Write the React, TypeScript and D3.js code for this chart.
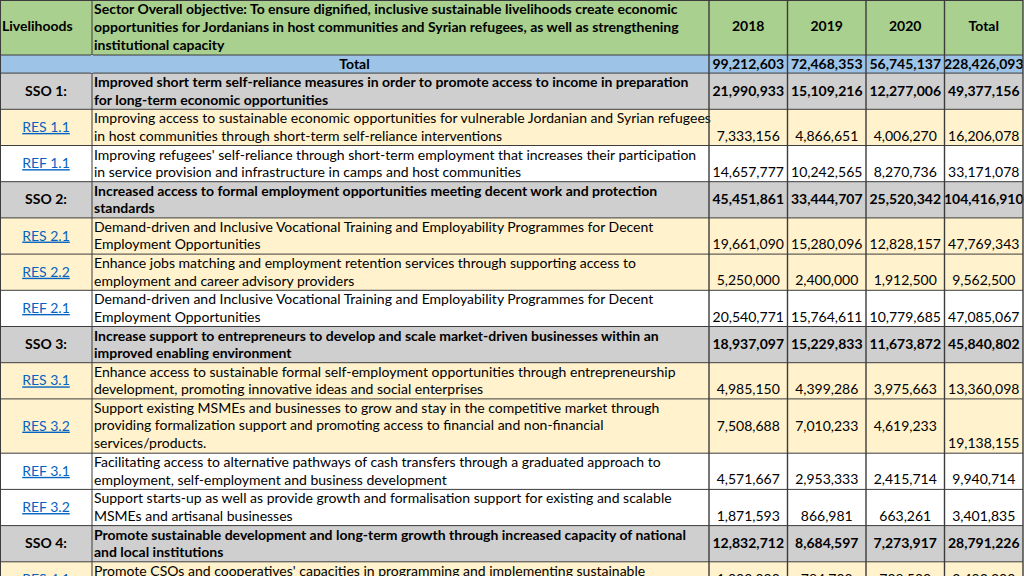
import React from "react";
import * as d3 from "d3";

// header
const headerLabel = "Livelihoods";
const headerObjective = [
  "Sector Overall objective: To ensure dignified, inclusive sustainable livelihoods create economic",
  "opportunities for Jordanians in host communities and Syrian refugees, as well as strengthening",
  "institutional capacity",
];
const valueColumns = ["2018", "2019", "2020", "Total"];

// grand total row
const grandTotals = [99212603, 72468353, 56745137, 228426093];

// body rows
const rowCodes = [
  "SSO 1:", "RES 1.1", "REF 1.1", "SSO 2:", "RES 2.1", "RES 2.2", "REF 2.1",
  "SSO 3:", "RES 3.1", "RES 3.2", "REF 3.1", "REF 3.2", "SSO 4:", "RES 4.1",
];
const rowTexts = [
  ["Improved short term self-reliance measures in order to promote access to income in preparation", "for long-term economic opportunities"],
  ["Improving access to sustainable economic opportunities for vulnerable Jordanian and Syrian refugees", "in host communities through short-term self-reliance interventions"],
  ["Improving refugees' self-reliance through short-term employment that increases their participation", "in service provision and infrastructure in camps and host communities"],
  ["Increased access to formal employment opportunities meeting decent work and protection", "standards"],
  ["Demand-driven and Inclusive Vocational Training  and Employability Programmes for Decent", "Employment Opportunities"],
  ["Enhance jobs matching and employment retention services through supporting access to", "employment and career advisory  providers"],
  ["Demand-driven and Inclusive Vocational Training and Employability Programmes for Decent", "Employment Opportunities"],
  ["Increase support to entrepreneurs to develop and scale market-driven businesses within an", "improved enabling environment"],
  ["Enhance access to sustainable formal self-employment opportunities through entrepreneurship", "development, promoting innovative ideas and social enterprises"],
  ["Support existing MSMEs and businesses to grow and stay in the competitive market through", "providing formalization support  and promoting access to financial and non-financial", "services/products."],
  ["Facilitating access to alternative pathways of  cash transfers through a graduated approach to", "employment, self-employment and business development"],
  ["Support starts-up as well as provide growth and formalisation support for existing and scalable", "MSMEs and artisanal businesses"],
  ["Promote sustainable development and long-term growth through increased capacity of national", "and local institutions"],
  ["Promote CSOs and cooperatives' capacities in programming and implementing sustainable", ""],
];
const values2018 = [21990933, 7333156, 14657777, 45451861, 19661090, 5250000, 20540771, 18937097, 4985150, 7508688, 4571667, 1871593, 12832712, 1000000];
const values2019 = [15109216, 4866651, 10242565, 33444707, 15280096, 2400000, 15764611, 15229833, 4399286, 7010233, 2953333, 866981, 8684597, 784700];
const values2020 = [12277006, 4006270, 8270736, 25520342, 12828157, 1912500, 10779685, 11673872, 3975663, 4619233, 2415714, 663261, 7273917, 708500];
const valuesTotal = [49377156, 16206078, 33171078, 104416910, 47769343, 9562500, 47085067, 45840802, 13360098, 19138155, 9940714, 3401835, 28791226, 2493200];

const W = 1024;
const H = 576;
const FONT = "Lato, 'Open Sans', sans-serif";
const LINE = 18.1;
const fmt = d3.format(",");

// cells whose numbers sit in the middle instead of the bottom
const middleCells: Record<string, number[]> = { "RES 3.2": [0, 1, 2], "RES 4.1": [0, 1, 2, 3] };

export default function App() {
  const x = d3.scaleBand().domain(valueColumns).range([709, 1023]);
  const codeX0 = 0, codeX1 = 92;

  // rows laid out in line units
  const rows = [
    { kind: "header", lines: 3 },
    { kind: "total", lines: 1 },
    ...rowCodes.map((c, i) => ({
      kind: c.startsWith("SSO") ? "sso" : c.startsWith("RES") ? "res" : "ref",
      lines: Math.max(2, rowTexts[i].length),
      i,
    })),
  ];
  let acc = 0;
  const starts = rows.map((r) => { const s = acc; acc += r.lines; return s; });
  const y = d3.scaleLinear().domain([0, 3]).range([0, 55]);
  const yb = d3.scaleLinear().domain([3, acc]).range([55, 55 + (acc - 3) * LINE]);
  const yAt = (v: number) => (v <= 3 ? y(v) : yb(v));

  const fills: Record<string, string> = {
    header: "#a9d08e", total: "#9dc3e6", sso: "#cfcfcf", res: "#fff2cc", ref: "#ffffff",
  };
  const stroke = "#3c3c3c";
  const seriesAt = (i: number) => [values2018[i], values2019[i], values2020[i], valuesTotal[i]];

  return (
    <svg width={W} height={H} style={{ position: "fixed", left: 0, top: 0, background: "#fff" }} fontFamily={FONT}>
      {rows.map((r: any, k) => {
        const top = yAt(starts[k]);
        const bot = yAt(starts[k] + r.lines);
        const mid = (top + bot) / 2;
        const fill = fills[r.kind];
        if (r.kind === "header") {
          return (
            <g key={k}>
              <rect x={0} y={top} width={1023} height={bot - top} fill={fill} />
              <text x={2} y={mid} dominantBaseline="middle" fontSize={14} fontWeight="bold">{headerLabel}</text>
              {headerObjective.map((t, j) => (
                <text key={j} x={codeX1 + 2} y={top + 14 + j * 18} fontSize={14} fontWeight="bold">{t}</text>
              ))}
              {valueColumns.map((c) => (
                <text key={c} x={x(c)! + x.bandwidth() / 2} y={mid} dominantBaseline="middle" textAnchor="middle" fontSize={14} fontWeight="bold">{c}</text>
              ))}
            </g>
          );
        }
        if (r.kind === "total") {
          return (
            <g key={k}>
              <rect x={0} y={top} width={1023} height={bot - top} fill={fill} />
              <text x={(codeX0 + 709) / 2} y={mid + 1} dominantBaseline="middle" textAnchor="middle" fontSize={14} fontWeight="bold">Total</text>
              {valueColumns.map((c, j) => (
                <text key={c} x={x(c)! + x.bandwidth() / 2} y={mid + 1} dominantBaseline="middle" textAnchor="middle" fontSize={14} fontWeight="bold">{fmt(grandTotals[j])}</text>
              ))}
            </g>
          );
        }
        const i = r.i;
        const code = rowCodes[i];
        const bold = r.kind === "sso";
        const link = !bold;
        const vals = seriesAt(i);
        return (
          <g key={k}>
            <rect x={0} y={top} width={1023} height={bot - top} fill={fill} />
            <text x={(codeX0 + codeX1) / 2} y={mid + 1} dominantBaseline="middle" textAnchor="middle" fontSize={14}
              fontWeight={bold ? "bold" : "normal"} fill={link ? "#0563c1" : "#000"} textDecoration={link ? "underline" : "none"}>{code}</text>
            {rowTexts[i].map((t, j) => (
              <text key={j} x={codeX1 + 2} y={top + 14 + j * 17.5} fontSize={14} fontWeight={bold ? "bold" : "normal"}>{t}</text>
            ))}
            {valueColumns.map((c, j) => {
              const middle = bold || (middleCells[code] || []).includes(j);
              return (
                <text key={c} x={x(c)! + x.bandwidth() / 2} y={middle ? mid + 1 : bot - 5}
                  dominantBaseline={middle ? "middle" : "alphabetic"} textAnchor="middle" fontSize={14}
                  fontWeight={bold ? "bold" : "normal"}>{fmt(vals[j])}</text>
              );
            })}
          </g>
        );
      })}
      {/* grid lines */}
      {rows.map((r, k) => (
        <line key={"h" + k} x1={0} x2={1023} y1={yAt(starts[k] + r.lines)} y2={yAt(starts[k] + r.lines)} stroke={stroke} strokeWidth={1} />
      ))}
      <line x1={0} x2={1023} y1={0.5} y2={0.5} stroke={stroke} strokeWidth={1} />
      {[0.5, codeX1, ...valueColumns.map((c) => x(c)!), 1023].map((v, k) => (
        <line key={"v" + k} x1={v} x2={v} y1={k === 1 ? 0 : 0} y2={H}
          stroke={stroke} strokeWidth={k >= 2 ? 1.4 : 1} />
      ))}
      {/* the Total row spans the first two columns */}
      <line x1={codeX1} x2={codeX1} y1={yAt(3)} y2={yAt(4)} stroke={fills.total} strokeWidth={2} />
    </svg>
  );
}
